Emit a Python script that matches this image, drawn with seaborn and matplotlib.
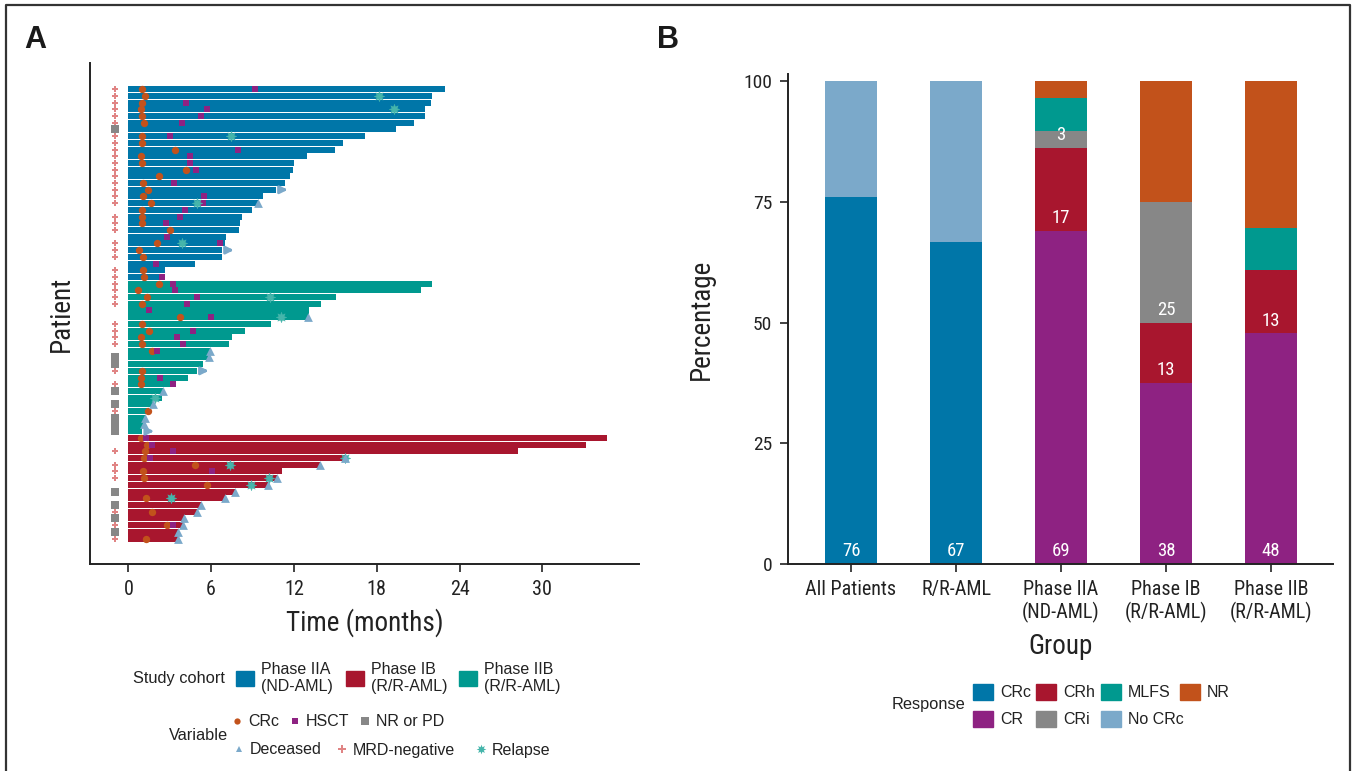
import numpy as np
import pandas as pd
import seaborn as sns
import matplotlib.pyplot as plt
from matplotlib.patches import Patch
from matplotlib.lines import Line2D

sns.set_style('white')
plt.rcParams['font.family'] = ['Liberation Sans Narrow', 'Roboto Condensed',
                               'DejaVu Sans Condensed', 'Liberation Sans']
plt.rcParams['font.stretch'] = 'condensed'

# ---- Panel A data (one entry per patient, top to bottom) ----
cohort = ['IIA'] * 29 + ['IIB'] * 23 + ['IB'] * 16
duration = [22.95, 22.0, 21.93, 21.5, 21.5, 20.7, 19.4, 17.15, 15.56, 14.98,
            12.95, 12.0, 11.93, 11.72, 11.36, 10.7, 9.76, 9.37, 8.96, 8.24,
            8.1, 8.02, 7.08, 7.0, 6.79, 6.79, 4.83, 2.66, 2.66,
            22.0, 21.2, 15.05, 13.96, 13.1, 13.02, 10.34, 8.46, 7.51, 7.29,
            5.9, 5.87, 5.41, 4.97, 4.33, 3.05, 2.54, 2.44, 1.79, 1.5,
            1.23, 1.16, 1.01,
            34.7, 33.15, 28.2, 15.7, 13.9, 11.1, 10.75, 10.15, 7.72, 7.0,
            5.27, 4.96, 4.04, 3.94, 3.6, 3.57]
crc_time = [0.97, 1.21, 0.97, 0.9, 0.97, 1.14, None, 0.97, 0.97, 3.36,
            0.92, 1.02, 4.18, 2.22, 1.06, 1.43, 1.04, 1.64, 0.97, 0.97,
            1.02, 3.04, None, 2.06, 0.8, 1.06, None, 1.04, 1.11,
            2.22, 0.73, 1.36, 0.97, None, 3.77, 0.97, 1.48, 0.9, 0.97,
            1.69, None, None, 0.97, 0.92, 0.92, None, None, None, 1.43,
            None, None, None,
            0.88, 1.32, 1.2, 1.14, 4.8, 1.04, 1.14, 5.7, None, 1.27,
            None, 1.68, None, 2.83, None, 1.27]
hsct_time = [9.16, None, 4.18, 5.68, 5.24, 3.89, None, 3.02, None, 7.95,
             4.47, 4.47, 4.9, None, 3.31, None, 5.49, 5.39, 4.11, 3.75,
             2.73, None, 2.8, 6.64, None, None, 2.0, None, 2.44,
             3.24, 3.38, 4.97, 4.25, 1.5, 5.99, None, 4.69, 3.53, 3.96,
             2.08, None, None, None, 2.3, 3.24, None, None, None, None,
             None, None, None,
             1.25, 1.73, 3.27, 1.6, None, 6.04, None, None, None, None,
             None, None, None, 3.27, None, None]
relapse_time = [None, 18.19, None, 19.28, None, None, None, 7.47, None, None,
                None, None, None, None, None, None, None, 5.0, None, None,
                None, None, None, 3.89, None, None, None, None, None,
                None, None, 10.24, None, None, 11.04, None, None, None, None,
                None, None, None, None, None, None, None, 1.93, None, None,
                None, None, None,
                None, None, None, 15.7, 7.36, None, 10.2, 8.9, None, 3.07,
                None, None, None, None, None, None]
deceased = [0, 0, 0, 0, 0, 0, 0, 0, 0, 0, 0, 0, 0, 0, 0, 0, 0, 1, 0, 0,
            0, 0, 0, 0, 0, 0, 0, 0, 0,
            0, 0, 0, 0, 0, 1, 0, 0, 0, 0, 1, 1, 0, 0, 0, 0, 1, 0, 1, 0,
            1, 1, 0,
            0, 0, 0, 1, 1, 0, 1, 1, 1, 1, 1, 1, 1, 1, 1, 1]
ongoing = [0, 0, 0, 0, 0, 0, 0, 0, 0, 0, 0, 0, 0, 0, 0, 1, 0, 0, 0, 0,
           0, 0, 0, 0, 1, 0, 0, 0, 0,
           0, 0, 0, 0, 0, 0, 0, 0, 0, 0, 0, 0, 0, 1, 0, 0, 0, 0, 0, 0,
           0, 0, 1,
           0, 0, 0, 0, 0, 0, 0, 0, 0, 0, 0, 0, 0, 0, 0, 0]
mrd_negative = [1, 1, 1, 1, 1, 1, 0, 1, 1, 1, 1, 1, 1, 1, 1, 1, 1, 1, 0, 1,
                1, 1, 0, 1, 1, 1, 0, 1, 1,
                1, 1, 1, 1, 0, 0, 1, 1, 1, 1, 0, 0, 0, 1, 0, 1, 0, 0, 0, 1,
                0, 0, 0,
                0, 0, 1, 0, 1, 1, 1, 0, 0, 0, 0, 1, 0, 1, 0, 1]
nr_or_pd = [0, 0, 0, 0, 0, 0, 1, 0, 0, 0, 0, 0, 0, 0, 0, 0, 0, 0, 0, 0,
            0, 0, 0, 0, 0, 0, 0, 0, 0,
            0, 0, 0, 0, 0, 0, 0, 0, 0, 0, 0, 1, 1, 0, 0, 0, 1, 0, 1, 0,
            1, 1, 1,
            0, 0, 0, 0, 0, 0, 0, 0, 1, 0, 1, 0, 1, 0, 1, 0]

# ---- Panel B data ----
groups = ['All Patients', 'R/R-AML', 'Phase IIA\n(ND-AML)', 'Phase IB\n(R/R-AML)', 'Phase IIB\n(R/R-AML)']
responses = ['CRc', 'CR', 'CRh', 'CRi', 'MLFS', 'NR', 'No CRc']
pct_crc = [76, 66.7, 0, 0, 0]
pct_cr = [0, 0, 69.0, 37.5, 47.8]
pct_crh = [0, 0, 17.2, 12.5, 13.0]
pct_cri = [0, 0, 3.4, 25.0, 0]
pct_mlfs = [0, 0, 6.9, 0, 8.8]
pct_nr = [0, 0, 3.5, 25.0, 30.4]
pct_nocrc = [24, 33.3, 0, 0, 0]
labelled = ['CRc', 'CR', 'CRh', 'CRi']

# colours
blue, red, teal = '#0076A8', '#A8162E', '#00998F'
purple, grey, light_blue = '#8E2282', '#878787', '#7BA9CA'
orange, salmon, relapse_col = '#C2521B', '#E08484', '#45B5AB'

cohort_pal = {'IIA': blue, 'IB': red, 'IIB': teal}
resp_pal = {'CRc': blue, 'CR': purple, 'CRh': red, 'CRi': grey,
            'MLFS': teal, 'NR': orange, 'No CRc': light_blue}

W, H = 1358, 771
fx = lambda p: p / W
fy = lambda p: 1 - p / H

fig = plt.figure(figsize=(W / 100, H / 100), dpi=100)
axA = fig.add_axes([fx(90), fy(564), fx(639) - fx(90), fy(63) - fy(564)])
axB = fig.add_axes([fx(788), fy(564), fx(1333) - fx(788), fy(74) - fy(564)])

# ---- Panel A: swimmer plot ----
pat = pd.DataFrame({'patient': [f'P{i:02d}' for i in range(1, len(duration) + 1)],
                    'months': duration, 'cohort': cohort})
sns.barplot(data=pat, x='months', y='patient', hue='cohort', palette=cohort_pal,
            dodge=False, width=0.9, saturation=1, errorbar=None, legend=False,
            orient='h', linewidth=0, edgecolor='none', ax=axA)

rows = np.arange(len(duration))


def event_points(times):
    t = np.array([np.nan if v is None else v for v in times], dtype=float)
    keep = ~np.isnan(t)
    return t[keep], rows[keep]


t, r = event_points(crc_time)
sns.scatterplot(x=t, y=r, color=orange, marker='o', s=28, linewidth=0, ax=axA, zorder=4)
t, r = event_points(hsct_time)
sns.scatterplot(x=t, y=r, color=purple, marker='s', s=22, linewidth=0, ax=axA, zorder=4)
t, r = event_points(relapse_time)
sns.scatterplot(x=t, y=r, color=relapse_col, marker=(8, 1, 0), s=55, linewidth=0.4,
                edgecolor=relapse_col, ax=axA, zorder=5)
dur = np.array(duration)
dec = np.array(deceased, bool)
sns.scatterplot(x=dur[dec], y=rows[dec], color=light_blue, marker='^', s=40,
                linewidth=0, ax=axA, zorder=5)
mrd = np.array(mrd_negative, bool)
sns.scatterplot(x=np.full(mrd.sum(), -1.0), y=rows[mrd], color=salmon, marker='P',
                s=20, linewidth=0, ax=axA, zorder=4)
nr = np.array(nr_or_pd, bool)
sns.scatterplot(x=np.full(nr.sum(), -1.0), y=rows[nr], color=grey, marker='s',
                s=40, linewidth=0, ax=axA, zorder=4)
for row in rows[np.array(ongoing, bool)]:
    axA.annotate('', xy=(dur[row] + 1.05, row), xytext=(dur[row] + 0.2, row),
                 arrowprops=dict(arrowstyle='-|>', color=light_blue, lw=2,
                                 mutation_scale=11), zorder=5)

axA.set_xlim(-2.78, 37)
axA.set_ylim(len(duration) + 2.8, -3.9)
axA.set_xticks([0, 6, 12, 18, 24, 30])
axA.set_yticks([])
axA.set_xlabel('Time (months)', fontsize=19.5, color='#222222', labelpad=7)
axA.set_ylabel('Patient', fontsize=19.5, color='#222222')
axA.yaxis.set_label_coords(-0.027, 0.5)

# ---- Panel B: stacked response bars ----
segs = {'CRc': pct_crc, 'CR': pct_cr, 'CRh': pct_crh, 'CRi': pct_cri,
        'MLFS': pct_mlfs, 'NR': pct_nr, 'No CRc': pct_nocrc}
cum = np.cumsum(np.array([segs[k] for k in responses]), axis=0)
for k in range(len(responses) - 1, -1, -1):
    sns.barplot(x=groups, y=cum[k], color=resp_pal[responses[k]], width=0.5,
                saturation=1, errorbar=None, linewidth=0, edgecolor='none', ax=axB)
for k, name in enumerate(responses):
    if name not in labelled:
        continue
    for i, v in enumerate(segs[name]):
        if v > 0:
            base = cum[k][i] - v
            axB.text(i, base + 2.6, str(int(v + 0.5)), ha='center', va='center',
                     color='white', fontsize=13.5)

axB.set_xlim(-0.6, 4.59)
axB.set_ylim(0, 101.45)
axB.set_yticks([0, 25, 50, 75, 100])
axB.set_xlabel('Group', fontsize=19.5, color='#222222', labelpad=7)
axB.set_ylabel('Percentage', fontsize=19.5, color='#222222')
axB.yaxis.set_label_coords(-0.134, 0.5)

for ax in (axA, axB):
    sns.despine(ax=ax)
    for s in ('left', 'bottom'):
        ax.spines[s].set_linewidth(1.4)
        ax.spines[s].set_color('#222222')
    ax.tick_params(direction='out', length=5.5, width=1.2, color='#222222',
                   labelsize=14.5, labelcolor='#222222', pad=6)
    ax.tick_params(axis='y', left=True)
    ax.tick_params(axis='x', bottom=True)
axA.tick_params(axis='y', left=False)
axB.tick_params(axis='y', labelsize=14)

# ---- legends: one entry per box, placed like the reference ----
leg_font = {'family': 'Liberation Sans', 'size': 11.5}
txt_kw = dict(fontfamily='Liberation Sans', fontsize=11.8, color='#222222',
              ha='right', va='center', fontstretch='normal')


def entry(handle, label, x, y, **kw):
    fig.legend([handle], [label], loc='center left', bbox_to_anchor=(fx(x), fy(y)),
               frameon=False, prop=leg_font, borderpad=0, borderaxespad=0,
               labelcolor='#222222', **kw)


fig.text(fx(225), fy(678), 'Study cohort', **txt_kw)
for c, lab, x in [(blue, 'Phase IIA\n(ND-AML)', 236), (red, 'Phase IB\n(R/R-AML)', 346),
                  (teal, 'Phase IIB\n(R/R-AML)', 459)]:
    entry(Patch(color=c), lab, x, 678, handlelength=1.1, handleheight=1.1,
          handletextpad=0.45)

fig.text(fx(228), fy(736), 'Variable', **txt_kw)
mk = dict(linestyle='none', markeredgewidth=0)
var_items = [(Line2D([], [], marker='o', color=orange, markersize=4.5, **mk), 'CRc', 237, 722),
             (Line2D([], [], marker='s', color=purple, markersize=4.5, **mk), 'HSCT', 295, 722),
             (Line2D([], [], marker='s', color=grey, markersize=5.5, **mk), 'NR or PD', 365, 722),
             (Line2D([], [], marker='^', color=light_blue, markersize=5, **mk), 'Deceased', 239, 750),
             (Line2D([], [], marker='P', color=salmon, markersize=5.5, **mk), 'MRD-negative', 342, 750),
             (Line2D([], [], marker=(8, 1, 0), color=relapse_col, markersize=7, **mk), 'Relapse', 481, 750)]
for h, lab, x, y in var_items:
    entry(h, lab, x - 5, y, handlelength=0.6, handletextpad=0.4)

fig.text(fx(965), fy(705), 'Response', **txt_kw)
resp_items = [('CRc', 973, 692), ('CRh', 1036, 692), ('MLFS', 1101, 692), ('NR', 1180, 692),
              ('CR', 973, 719), ('CRi', 1036, 719), ('No CRc', 1101, 719)]
for lab, x, y in resp_items:
    entry(Patch(color=resp_pal[lab]), lab, x, y, handlelength=1.25, handleheight=1.25,
          handletextpad=0.45)

# panel letters and frame
fig.text(fx(35), fy(40), 'A', fontsize=22, fontweight='bold', fontfamily='Liberation Sans',
         fontstretch='normal', color='#1a1a1a', ha='center', va='center')
fig.text(fx(668), fy(40), 'B', fontsize=22, fontweight='bold', fontfamily='Liberation Sans',
         fontstretch='normal', color='#1a1a1a', ha='center', va='center')
fig.add_artist(Line2D([fx(6), fx(6), fx(1350), fx(1350)], [0, fy(5), fy(5), 0],
                      transform=fig.transFigure, color='#333333', lw=1.6))

fig.savefig('out.png', dpi=100)
